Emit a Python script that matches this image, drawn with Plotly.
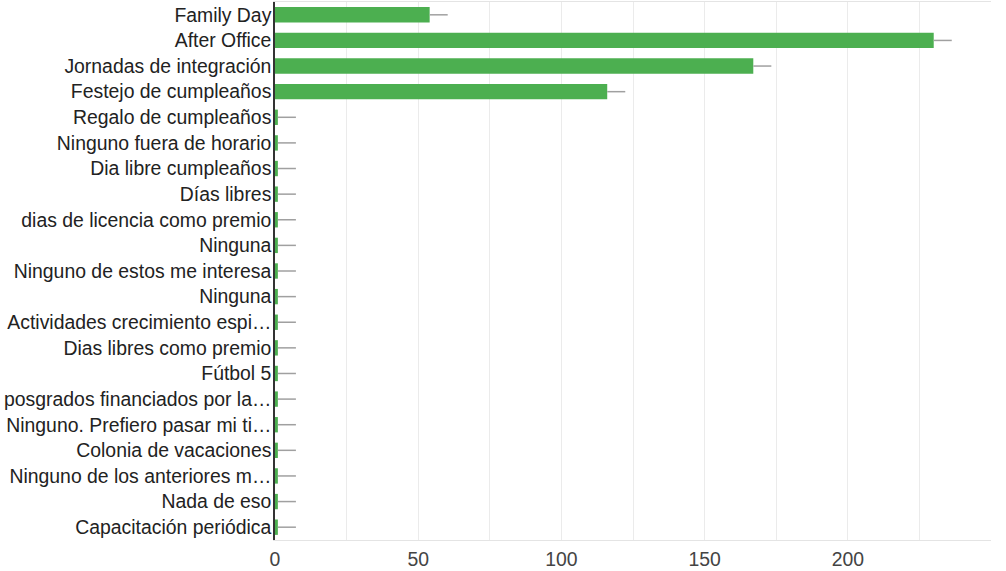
import plotly.graph_objects as go

categories = [
    "Family Day",
    "After Office",
    "Jornadas de integración",
    "Festejo de cumpleaños",
    "Regalo de cumpleaños",
    "Ninguno fuera de horario",
    "Dia libre cumpleaños",
    "Días libres",
    "dias de licencia como premio",
    "Ninguna",
    "Ninguno de estos me interesa",
    "Ninguna",
    "Actividades crecimiento espi…",
    "Dias libres como premio",
    "Fútbol 5",
    "posgrados financiados por la…",
    "Ninguno. Prefiero pasar mi ti…",
    "Colonia de vacaciones",
    "Ninguno de los anteriores m…",
    "Nada de eso",
    "Capacitación periódica",
]
counts = [54, 230, 167, 116, 1, 1, 1, 1, 1, 1, 1, 1, 1, 1, 1, 1, 1, 1, 1, 1, 1]
leader = [6.3] * len(counts)
x_ticks = [0, 50, 100, 150, 200, 250]

# unique keys per row so repeated answers ("Ninguna") keep their own bar
row_keys = [f"r{i}" for i in range(len(categories))]

fig = go.Figure(
    go.Bar(
        y=row_keys,
        x=counts,
        orientation="h",
        width=0.6,
        marker=dict(color="#4caf50", line=dict(width=0)),
        error_x=dict(
            type="data",
            symmetric=False,
            array=leader,
            arrayminus=[0] * len(counts),
            width=0,
            thickness=1.5,
            color="#a0a0a0",
        ),
        customdata=categories,
        hovertemplate="%{customdata}: %{x}<extra></extra>",
    )
)

fig.update_layout(
    width=1006,
    height=571,
    margin=dict(l=275, r=15, t=2, b=31),
    paper_bgcolor="white",
    plot_bgcolor="white",
    font=dict(family="Liberation Sans, Arial, sans-serif", size=19.4, color="#222"),
    showlegend=False,
)

fig.update_xaxes(
    range=[0, 250],
    tickvals=x_ticks,
    ticktext=[str(v) for v in x_ticks],
    tickfont=dict(size=19.4, color="#444"),
    showgrid=True,
    gridcolor="#ebebeb",
    gridwidth=1,
    minor=dict(dtick=25, showgrid=True, gridcolor="#ebebeb", gridwidth=1, tick0=0),
    zeroline=False,
    showline=True,
    linecolor="#e4e4e4",
    linewidth=1,
    mirror=True,
    ticks="outside",
    ticklen=2,
    tickcolor="rgba(0,0,0,0)",
    automargin=False,
    fixedrange=True,
)

fig.update_yaxes(
    type="category",
    categoryorder="array",
    categoryarray=row_keys,
    tickvals=row_keys,
    ticktext=categories,
    autorange="reversed",
    tickfont=dict(size=19.4, color="#222"),
    showgrid=False,
    zeroline=False,
    showline=True,
    linecolor="#333333",
    linewidth=1.5,
    ticks="",
    ticklabelstandoff=-2,
    automargin=False,
    fixedrange=True,
)

fig.write_html("out.html")
